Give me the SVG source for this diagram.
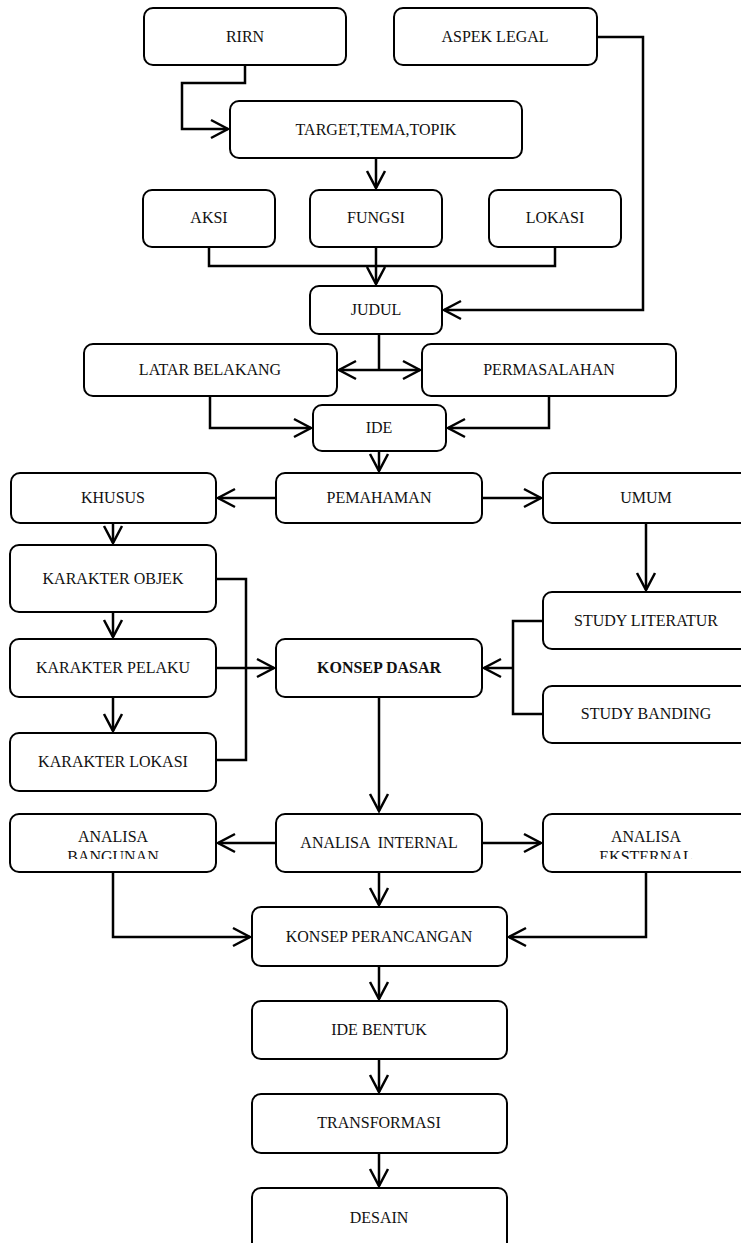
<svg xmlns="http://www.w3.org/2000/svg" width="741" height="1243" viewBox="0 0 741 1243">
<style>
.box{fill:#fff;stroke:#000;stroke-width:2}
.t{font-family:'Liberation Serif','Times New Roman',serif;font-size:16px;fill:#111;text-anchor:middle}
.b{font-weight:bold}
.c{fill:none;stroke:#000;stroke-width:2.5}
</style>
<defs>
<marker id="ah" markerUnits="userSpaceOnUse" markerWidth="22" markerHeight="22" refX="18" refY="10" orient="auto" overflow="visible">
<path d="M1,1 L18,10 L1,19" fill="none" stroke="#000" stroke-width="2.5"/>
</marker>
<clipPath id="clipA"><rect x="0" y="800" width="741" height="59"/></clipPath>
</defs>
<g id="connectors">
<path class="c" d="M245,66 V83 H182 V129 H228" marker-end="url(#ah)"/>
<path class="c" d="M597,37 H643 V310 H444" marker-end="url(#ah)"/>
<path class="c" d="M376,158 V188" marker-end="url(#ah)"/>
<path class="c" d="M209,247 V266 H555 V247"/>
<path class="c" d="M376,247 V284" marker-end="url(#ah)"/>
<path class="c" d="M379,334 V370"/>
<path class="c" d="M379,370 H339" marker-end="url(#ah)"/>
<path class="c" d="M379,370 H420" marker-end="url(#ah)"/>
<path class="c" d="M210,396 V428 H311" marker-end="url(#ah)"/>
<path class="c" d="M549,396 V428 H448" marker-end="url(#ah)"/>
<path class="c" d="M379,451 V471" marker-end="url(#ah)"/>
<path class="c" d="M276,498 H218" marker-end="url(#ah)"/>
<path class="c" d="M482,498 H541" marker-end="url(#ah)"/>
<path class="c" d="M113,523 V543" marker-end="url(#ah)"/>
<path class="c" d="M113,612 V637" marker-end="url(#ah)"/>
<path class="c" d="M113,697 V731" marker-end="url(#ah)"/>
<path class="c" d="M646,523 V590" marker-end="url(#ah)"/>
<path class="c" d="M216,579 H246 V760 H216"/>
<path class="c" d="M216,668 H274" marker-end="url(#ah)"/>
<path class="c" d="M543,621 H513 V714 H543"/>
<path class="c" d="M513,668 H484" marker-end="url(#ah)"/>
<path class="c" d="M379,697 V811" marker-end="url(#ah)"/>
<path class="c" d="M276,843 H218" marker-end="url(#ah)"/>
<path class="c" d="M482,843 H541" marker-end="url(#ah)"/>
<path class="c" d="M379,872 V905" marker-end="url(#ah)"/>
<path class="c" d="M113,872 V937 H250" marker-end="url(#ah)"/>
<path class="c" d="M646,872 V937 H509" marker-end="url(#ah)"/>
<path class="c" d="M379,966 V999" marker-end="url(#ah)"/>
<path class="c" d="M379,1059 V1092" marker-end="url(#ah)"/>
<path class="c" d="M379,1153 V1186" marker-end="url(#ah)"/>
</g>
<g id="rirn"><rect class="box" x="144" y="8" width="202" height="57" rx="9"/><text class="t" x="245" y="42">RIRN</text></g>
<g id="aspek-legal"><rect class="box" x="394" y="8" width="203" height="57" rx="9"/><text class="t" x="495" y="42">ASPEK LEGAL</text></g>
<g id="target"><rect class="box" x="230" y="101" width="292" height="57" rx="9"/><text class="t" x="376" y="135">TARGET,TEMA,TOPIK</text></g>
<g id="aksi"><rect class="box" x="143" y="190" width="132" height="57" rx="9"/><text class="t" x="209" y="223">AKSI</text></g>
<g id="fungsi"><rect class="box" x="310" y="190" width="132" height="57" rx="9"/><text class="t" x="376" y="223">FUNGSI</text></g>
<g id="lokasi"><rect class="box" x="489" y="190" width="132" height="57" rx="9"/><text class="t" x="555" y="223">LOKASI</text></g>
<g id="judul"><rect class="box" x="310" y="286" width="132" height="48" rx="9"/><text class="t" x="376" y="315">JUDUL</text></g>
<g id="latar"><rect class="box" x="84" y="344" width="253" height="52" rx="9"/><text class="t" x="210" y="375">LATAR BELAKANG</text></g>
<g id="permasalahan"><rect class="box" x="422" y="344" width="254" height="52" rx="9"/><text class="t" x="549" y="375">PERMASALAHAN</text></g>
<g id="ide"><rect class="box" x="313" y="405" width="133" height="46" rx="9"/><text class="t" x="379" y="433">IDE</text></g>
<g id="khusus"><rect class="box" x="11" y="473" width="205" height="50" rx="9"/><text class="t" x="113" y="503">KHUSUS</text></g>
<g id="pemahaman"><rect class="box" x="276" y="473" width="206" height="50" rx="9"/><text class="t" x="379" y="503">PEMAHAMAN</text></g>
<g id="umum"><rect class="box" x="543" y="473" width="210" height="50" rx="9"/><text class="t" x="646" y="503">UMUM</text></g>
<g id="karakter-objek"><rect class="box" x="10" y="545" width="206" height="67" rx="9"/><text class="t" x="113" y="584">KARAKTER OBJEK</text></g>
<g id="karakter-pelaku"><rect class="box" x="10" y="639" width="206" height="58" rx="9"/><text class="t" x="113" y="673">KARAKTER PELAKU</text></g>
<g id="karakter-lokasi"><rect class="box" x="10" y="733" width="206" height="58" rx="9"/><text class="t" x="113" y="767">KARAKTER LOKASI</text></g>
<g id="konsep-dasar"><rect class="box" x="276" y="639" width="206" height="58" rx="9"/><text class="t b" x="379" y="673">KONSEP DASAR</text></g>
<g id="study-literatur"><rect class="box" x="543" y="592" width="210" height="57" rx="9"/><text class="t" x="646" y="626">STUDY LITERATUR</text></g>
<g id="study-banding"><rect class="box" x="543" y="686" width="210" height="57" rx="9"/><text class="t" x="646" y="719">STUDY BANDING</text></g>
<g id="analisa-bangunan"><rect class="box" x="10" y="814" width="206" height="58" rx="9"/><text class="t" clip-path="url(#clipA)"><tspan x="113" y="842">ANALISA</tspan><tspan x="113" y="862">BANGUNAN</tspan></text></g>
<g id="analisa-internal"><rect class="box" x="276" y="814" width="206" height="58" rx="9"/><text class="t" x="379" y="848" xml:space="preserve">ANALISA  INTERNAL</text></g>
<g id="analisa-eksternal"><rect class="box" x="543" y="814" width="210" height="58" rx="9"/><text class="t" clip-path="url(#clipA)"><tspan x="646" y="842">ANALISA</tspan><tspan x="646" y="862">EKSTERNAL</tspan></text></g>
<g id="konsep-perancangan"><rect class="box" x="252" y="907" width="255" height="59" rx="9"/><text class="t" x="379" y="942">KONSEP PERANCANGAN</text></g>
<g id="ide-bentuk"><rect class="box" x="252" y="1001" width="255" height="58" rx="9"/><text class="t" x="379" y="1035">IDE BENTUK</text></g>
<g id="transformasi"><rect class="box" x="252" y="1094" width="255" height="59" rx="9"/><text class="t" x="379" y="1128">TRANSFORMASI</text></g>
<g id="desain"><rect class="box" x="252" y="1188" width="255" height="70" rx="9"/><text class="t" x="379" y="1223">DESAIN</text></g>
</svg>
